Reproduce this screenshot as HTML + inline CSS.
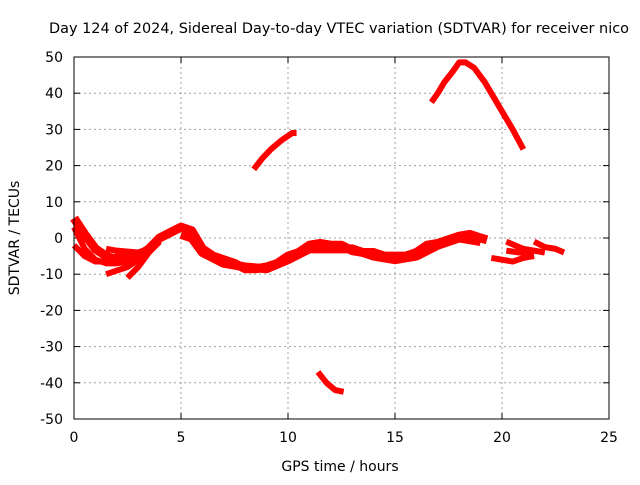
<!DOCTYPE html>
<html><head><meta charset="utf-8"><style>
body{margin:0;background:#fff}
svg{font-family:"DejaVu Sans","Liberation Sans",sans-serif}
</style></head><body>
<svg id="c" width="640" height="480" xmlns="http://www.w3.org/2000/svg">
<rect width="640" height="480" fill="#fff"/>
<text x="339" y="33" font-size="14" text-anchor="middle" textLength="580" lengthAdjust="spacingAndGlyphs">Day 124 of 2024, Sidereal Day-to-day VTEC variation (SDTVAR) for receiver nico</text>
<text x="340" y="471" font-size="14" text-anchor="middle">GPS time / hours</text>
<text x="19" y="238" font-size="14" text-anchor="middle" transform="rotate(-90 19 238)">SDTVAR / TECUs</text>
<g id="grid"></g>
<g id="ticks"></g>
<g id="series"></g>
<rect x="74" y="57" width="535" height="362" fill="none" stroke="#000" stroke-width="1"/>
</svg>
<script>
const xTicks=[0,5,10,15,20,25];
const yTicks=[-50,-40,-30,-20,-10,0,10,20,30,40,50];
const trackMain=[[0,5.5],[0.5,1],[1,-3],[1.5,-5],[2,-6],[2.5,-6],[3,-5],[3.5,-3],[4,0],[4.5,1.5],[5,3],[5.5,2],[6,-3],[6.5,-5],[7,-6],[7.5,-7],[8,-8.5],[8.5,-8.5],[9,-8],[9.5,-7],[10,-5],[10.5,-4],[11,-2],[11.5,-1.5],[12,-2],[12.5,-2],[13,-3.5],[13.5,-4],[14,-4],[14.5,-5],[15,-5],[15.5,-5],[16,-4],[16.5,-2],[17,-1.5],[17.5,-0.5],[18,0.5],[18.5,1],[19,0],[19.3,-0.5]];
const trackMain2=[[5,1],[5.5,0],[6,-4],[7,-7],[8,-8],[9,-8.5],[10,-6],[11,-3],[12,-3],[13,-3],[14,-5],[15,-6],[16,-5],[17,-2],[18,0],[19,-1]];
const trackB=[[0,3],[0.5,-3],[1,-6],[1.5,-7],[2,-7],[2.5,-6.5],[3,-5.5]];
const trackC=[[0,-2],[0.5,-5],[1,-6.5],[1.5,-6.5],[2,-5],[2.5,-5],[3,-4.5]];
const trackD=[[1.5,-10],[2,-9],[2.5,-8],[3,-6],[3.5,-3],[4,0],[4.5,1.5]];
const trackE=[[2.5,-11],[3,-8],[3.5,-4],[4,-1]];
const trackF=[[1.5,-3],[2,-3.5],[3,-4],[3.5,-3]];
const trackR1=[[19.5,-5.5],[20,-6],[20.5,-6.5],[21,-5.5],[21.5,-5]];
const trackR2=[[20.2,-1],[21,-3],[22,-4]];
const trackR3=[[20.2,-3.5],[20.8,-4],[21.5,-4]];
const trackR4=[[21.5,-1],[22,-2.5],[22.5,-3],[22.9,-4]];
const trackArc1=[[16.7,37.5],[17,40],[17.3,43],[17.7,46],[18,48.5],[18.3,48.5],[18.7,47],[19.2,43],[19.7,38],[20,35],[20.5,30],[21,24.5]];
const trackArc2=[[8.4,19],[8.8,22],[9.2,24.5],[9.7,27],[10.2,29],[10.4,29]];
const trackArc3=[[11.4,-37],[11.8,-40],[12.2,-42],[12.6,-42.5]];
const tracks=[trackMain,trackMain2,trackB,trackC,trackD,trackE,trackF,trackR1,trackR2,trackR3,trackR4,trackArc1,trackArc2,trackArc3];
const widths=[9,9,6,6,6,6,6,6,6,6,6,6,6,6];
const X0=74,X1=609,Y0=419,Y1=57;
const sx=v=>X0+(v-0)/(25-0)*(X1-X0);
const sy=v=>Y0-(v+50)/100*(Y0-Y1);
const NS="http://www.w3.org/2000/svg";
const grid=document.getElementById('grid'),ticks=document.getElementById('ticks'),ser=document.getElementById('series');
function mk(tag,attrs,parent){const e=document.createElementNS(NS,tag);for(const k in attrs)e.setAttribute(k,attrs[k]);parent.appendChild(e);return e;}
xTicks.forEach(t=>{
  const x=sx(t);
  if(t>0&&t<25){const g=mk('line',{x1:x,x2:x,y1:Y1,y2:Y0,stroke:'#a0a0a0','stroke-dasharray':'2,3'},grid);
  
  }
  mk('line',{x1:x,x2:x,y1:Y0,y2:Y0-6,stroke:'#000'},ticks);
  mk('line',{x1:x,x2:x,y1:Y1,y2:Y1+6,stroke:'#000'},ticks);
  const l=mk('text',{x:x,y:Y0+23,'font-size':14,'text-anchor':'middle'},ticks);l.textContent=t;
  
  
});
yTicks.forEach(t=>{
  const y=sy(t);
  if(t>-50&&t<50){const g=mk('line',{x1:X0,x2:X1,y1:y,y2:y,stroke:'#a0a0a0','stroke-dasharray':'2,3'},grid);
  
  }
  mk('line',{x1:X0,x2:X0+6,y1:y,y2:y,stroke:'#000'},ticks);
  mk('line',{x1:X1,x2:X1-6,y1:y,y2:y,stroke:'#000'},ticks);
  const l=mk('text',{x:X0-11,y:y+5,'font-size':14,'text-anchor':'end'},ticks);l.textContent=t;
  
  
});
tracks.forEach((tr,i)=>{
  const p=mk('polyline',{points:tr.map(d=>sx(d[0])+','+sy(d[1])).join(' '),fill:'none',stroke:'#ff0000','stroke-width':widths[i],'stroke-linejoin':'round'},ser);
  
  
});
</script>
</body></html>
